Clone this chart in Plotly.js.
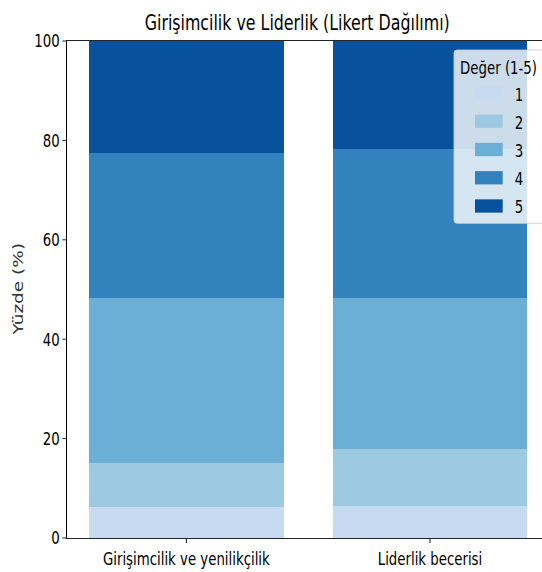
<!DOCTYPE html>
<html><head><meta charset="utf-8">
<script src="https://cdn.plot.ly/plotly-3.0.1.min.js"></script>
<style>
html,body{margin:0;padding:0;width:542px;height:572px;overflow:hidden;background:#fff;}
#wrap{width:800px;height:572px;transform:scaleX(0.72);transform-origin:0 0;}
</style></head><body><div id="wrap"><div id="chart"></div></div>
<script>
const categories = ["Girişimcilik ve yenilikçilik", "Liderlik becerisi"];
const likertLevels = ["1", "2", "3", "4", "5"];
const level1 = [6.3, 6.5];
const level2 = [8.7, 11.5];
const level3 = [33.2, 30.2];
const level4 = [29.2, 30.0];
const level5 = [22.6, 21.8];
const yTicks = [0, 20, 40, 60, 80, 100];
const chartTitle = "Girişimcilik ve Liderlik (Likert Dağılımı)";
const yTitle = "Yüzde (%)";
const legendTitle = "Değer (1-5)";

const seriesValues = [level1, level2, level3, level4, level5];
const colors = ["#c6dbef", "#9ecae1", "#6baed6", "#3182bd", "#08519c"];
const F = "DejaVu Sans, Verdana, sans-serif";

// figure geometry (plotly px inside the horizontally squeezed page)
const SX = 0.72, W = 800, H = 572, ML = 93, MR = 37, MT = 41, MB = 34;
const PW = W - ML - MR, PH = H - MT - MB;
const pX = x => ((x / SX) - ML) / PW;   // page px -> paper x
const pY = y => 1 - (y - MT) / PH;      // page px -> paper y

const traces = likertLevels.map((lv, i) => ({
  type: "bar",
  x: categories,
  y: seriesValues[i],
  name: lv,
  width: 0.8,
  marker: {color: colors[i], line: {width: 0}},
  showlegend: false,
  hoverinfo: "skip"
}));

// legend drawn in matplotlib style (wide swatches, centred block)
const LG = {left: 454, right: 547, top: 50, bottom: 223.3, titleY: 67,
            swX0: 475, swX1: 502.7, swH: 13.3, firstY: 93, stepY: 28.25, textX: 513};
const r = 3;
const boxPath = [
  `M${pX(LG.left + r)},${pY(LG.top)}`,
  `L${pX(LG.right - r)},${pY(LG.top)}`,
  `Q${pX(LG.right)},${pY(LG.top)} ${pX(LG.right)},${pY(LG.top + r)}`,
  `L${pX(LG.right)},${pY(LG.bottom - r)}`,
  `Q${pX(LG.right)},${pY(LG.bottom)} ${pX(LG.right - r)},${pY(LG.bottom)}`,
  `L${pX(LG.left + r)},${pY(LG.bottom)}`,
  `Q${pX(LG.left)},${pY(LG.bottom)} ${pX(LG.left)},${pY(LG.bottom - r)}`,
  `L${pX(LG.left)},${pY(LG.top + r)}`,
  `Q${pX(LG.left)},${pY(LG.top)} ${pX(LG.left + r)},${pY(LG.top)}`, "Z"
].join(" ");

const shapes = [{
  type: "path", xref: "paper", yref: "paper", path: boxPath, layer: "above",
  fillcolor: "rgba(255,255,255,0.8)", line: {color: "#cccccc", width: 1}
}].concat(likertLevels.map((lv, i) => {
  const cy = LG.firstY + i * LG.stepY;
  return {
    type: "rect", xref: "paper", yref: "paper", layer: "above",
    x0: pX(LG.swX0), x1: pX(LG.swX1),
    y0: pY(cy - LG.swH / 2), y1: pY(cy + LG.swH / 2),
    fillcolor: colors[i], line: {width: 0}
  };
}));

const annotations = [{
  text: yTitle, xref: "paper", yref: "paper",
  x: pX(18), y: 0.5, xanchor: "center", yanchor: "middle",
  textangle: -90, showarrow: false,
  font: {family: F, size: 18.5, color: "#333"}
}, {
  text: legendTitle, xref: "paper", yref: "paper",
  x: pX(498.5), y: pY(LG.titleY), xanchor: "center", yanchor: "middle",
  showarrow: false, font: {family: F, size: 18.5, color: "#000"}
}].concat(likertLevels.map((lv, i) => ({
  text: lv, xref: "paper", yref: "paper",
  x: pX(LG.textX), y: pY(LG.firstY + i * LG.stepY + 1),
  xanchor: "left", yanchor: "middle", showarrow: false,
  font: {family: F, size: 18.5, color: "#000"}
})));

const layout = {
  width: W, height: H,
  margin: {l: ML, r: MR, t: MT, b: MB},
  paper_bgcolor: "#fff", plot_bgcolor: "#fff",
  barmode: "stack",
  showlegend: false,
  title: {
    text: chartTitle,
    font: {family: F, size: 22, color: "#000"},
    x: 0.516, xanchor: "center", xref: "container",
    y: 1 - 22.5 / H, yanchor: "middle", yref: "container"
  },
  xaxis: {
    type: "category",
    range: [-0.49, 1.49],
    showline: true, linecolor: "#000", linewidth: 1, mirror: true,
    ticks: "outside", ticklen: 4, tickwidth: 1.3, tickcolor: "#000",
    showgrid: false, zeroline: false,
    tickfont: {family: F, size: 18.5, color: "#000"},
    fixedrange: true
  },
  yaxis: {
    range: [0, 100],
    tickvals: yTicks,
    ticktext: yTicks.map(String),
    showline: true, linecolor: "#000", linewidth: 1.4, mirror: true,
    ticks: "outside", ticklen: 5, tickwidth: 1, tickcolor: "#000",
    showgrid: false, zeroline: false,
    tickfont: {family: F, size: 18.5, color: "#000"},
    fixedrange: true
  },
  shapes: shapes,
  annotations: annotations
};

Plotly.newPlot("chart", traces, layout, {displayModeBar: false, staticPlot: true});
</script></body></html>
